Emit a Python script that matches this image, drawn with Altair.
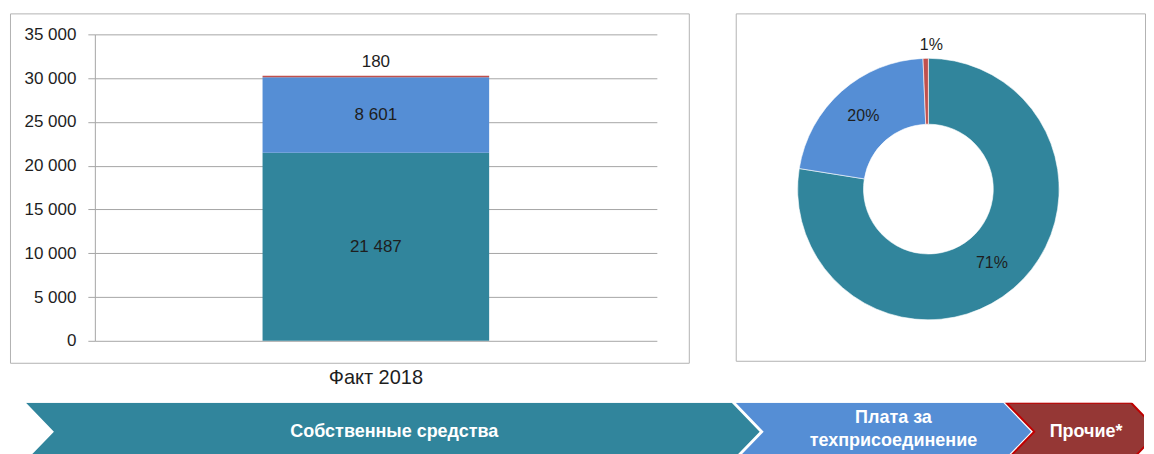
import altair as alt
import pandas as pd

# ---------------- data ----------------
categories = ["Собственные средства", "Плата за техприсоединение", "Прочие*"]
band_lines = [["Собственные средства"], ["Плата за", "техприсоединение"], ["Прочие*"]]
period = "Факт 2018"
bar_values = [21487, 8601, 180]
pie_values = [71, 20, 0.6]
y_ticks = [0, 5000, 10000, 15000, 20000, 25000, 30000, 35000]

# ---------------- styles ----------------
FONT = "Liberation Sans"
TXT = "#1e1e1e"
GRID = "#a6a6a6"
FRAME = "#b3b3b3"
bar_colors = ["#31859c", "#558ed5", "#c0504d"]
pie_colors = ["#31859c", "#558ed5", "#a03c39"]
band_colors = ["#31859c", "#558ed5", "#953735"]


def spaced(v):
    return f"{v:,}".replace(",", " ")


# ---------------- bar chart (view = outer frame) ----------------
BAR_W, BAR_H = 680, 350
PLOT_X = [85, 648]     # inner plot range inside the frame
PLOT_Y = [328, 21]

bar_df = pd.DataFrame({
    "period": [period] * len(categories),
    "category": categories,
    "value": bar_values,
    "idx": list(range(len(categories))),
    "label": [spaced(v) for v in bar_values],
})

bbase = alt.Chart(bar_df)
x_scale = alt.Scale(range=PLOT_X)
y_scale = alt.Scale(domain=[0, 35000], nice=False, range=PLOT_Y)
x_enc = alt.X("period:N", title=None, scale=x_scale,
              axis=alt.Axis(labelAngle=0, ticks=False, domain=False, labelFontSize=20,
                            labelPadding=5, labelColor=TXT, labelFont=FONT))
bars = bbase.mark_bar(size=227).encode(
    x=x_enc,
    y=alt.Y("value:Q", stack="zero", title=None, scale=y_scale,
            axis=alt.Axis(values=y_ticks, grid=True, gridColor=GRID, domainColor=GRID,
                          tickColor=GRID, tickSize=7, labelFontSize=17, labelPadding=12,
                          labelColor=TXT, labelFont=FONT, offset=-PLOT_X[0],
                          labelExpr="replace(format(datum.value, ','), ',', ' ')")),
    color=alt.Color("category:N", scale=alt.Scale(domain=categories, range=bar_colors), legend=None),
    order=alt.Order("idx:Q"),
)

stacked = bbase.transform_stack(
    stack="value", groupby=["period"], sort=[alt.SortField("idx")], as_=["v0", "v1"]
).transform_calculate(mid="(datum.v0 + datum.v1) / 2")

inner_lbl = stacked.transform_filter("datum.idx < 2").mark_text(
    fontSize=17, font=FONT, color=TXT
).encode(x="period:N", y="mid:Q", text="label:N")

top_lbl = stacked.transform_filter("datum.idx == 2").mark_text(
    fontSize=17, font=FONT, color=TXT, baseline="bottom", dy=-5
).encode(x="period:N", y="v1:Q", text="label:N")

bar_chart = alt.layer(bars, inner_lbl, top_lbl).properties(
    width=BAR_W, height=BAR_H, view=alt.ViewBackground(stroke=FRAME, strokeWidth=1)
)

# ---------------- donut ----------------
pie_df = pd.DataFrame({
    "category": categories,
    "value": pie_values,
    "idx": list(range(len(categories))),
    "label": [f"{round(v)}%" for v in pie_values],
})
pbase = alt.Chart(pie_df).encode(
    theta=alt.Theta("value:Q", stack=True),
    order=alt.Order("idx:Q"),
    x=alt.value(193), y=alt.value(176),
)
arcs = pbase.mark_arc(outerRadius=131, innerRadius=65, stroke="white", strokeWidth=0.6).encode(
    color=alt.Color("category:N", scale=alt.Scale(domain=categories, range=pie_colors), legend=None)
)
plbl_in = pbase.mark_text(radius=98, fontSize=16, font=FONT, color=TXT).encode(text="label:N")
plbl_in = plbl_in.transform_filter("datum.idx < 2")
plbl_out = pbase.mark_text(radius=144, fontSize=16, font=FONT, color=TXT).encode(text="label:N")
plbl_out = plbl_out.transform_filter("datum.idx == 2")

pie_chart = alt.layer(arcs, plbl_in, plbl_out).properties(
    width=410, height=348, view=alt.ViewBackground(stroke=FRAME, strokeWidth=1)
)

# ---------------- chevron band (decorative legend) ----------------
# layout in page pixels: left top edge, right top edge, notch depth
chev_left = [26, 737, 1008]
chev_right = [733, 1005, 1133]
NOTCH = 28
Y_TOP, Y_MID, Y_BOT = 400, 429, 458
text_x = [395, 895, 1088]
text_y = [[429], [415, 438], [429]]
BAND_X0, BAND_X1 = 10, 1146

rows = []
for i, c in enumerate(categories):
    for yy, d in ((Y_TOP, 0), (Y_MID, NOTCH), (Y_BOT, 0)):
        rows.append({"category": c, "idx": i, "yy": yy,
                     "xl": chev_left[i] + d, "xr": chev_right[i] + d})
band_df = pd.DataFrame(rows)

trows = []
for i, lines in enumerate(band_lines):
    for line, ty in zip(lines, text_y[i]):
        trows.append({"label": line, "tx": text_x[i], "ty": ty})
txt_df = pd.DataFrame(trows)

bx = alt.Scale(domain=[BAND_X0, BAND_X1], nice=False, zero=False)
by = alt.Scale(domain=[400, 454], nice=False, zero=False, reverse=True)

chev = alt.Chart(band_df).transform_filter("datum.idx < 2").mark_area(
    orient="horizontal", clip=True
).encode(
    y=alt.Y("yy:Q", scale=by, axis=None),
    x=alt.X("xl:Q", scale=bx, axis=None, stack=False),
    x2="xr:Q",
    color=alt.Color("category:N", scale=alt.Scale(domain=categories, range=band_colors), legend=None),
    detail="category:N",
)
chev_red = alt.Chart(band_df).transform_filter("datum.idx == 2").mark_area(
    orient="horizontal", clip=True, stroke="#c00000", strokeWidth=2, fill=band_colors[2]
).encode(
    y=alt.Y("yy:Q", scale=by, axis=None),
    x=alt.X("xl:Q", scale=bx, axis=None, stack=False),
    x2="xr:Q",
)
band_txt = alt.Chart(txt_df).mark_text(
    color="white", fontWeight="bold", fontSize=18, font=FONT
).encode(
    x=alt.X("tx:Q", scale=bx, axis=None),
    y=alt.Y("ty:Q", scale=by, axis=None),
    text="label:N",
)
band = alt.layer(chev, chev_red, band_txt).properties(
    width=BAND_X1 - BAND_X0, height=54, view=alt.ViewBackground(stroke="transparent")
)

top_row = alt.hconcat(bar_chart, pie_chart, spacing=45)
chart = alt.vconcat(top_row, band, spacing=13).properties(
    padding={"left": 1, "top": 4, "right": 0, "bottom": 0}
).configure(font=FONT)

chart.save("out.html", embed_options={"renderer": "svg", "actions": False})
